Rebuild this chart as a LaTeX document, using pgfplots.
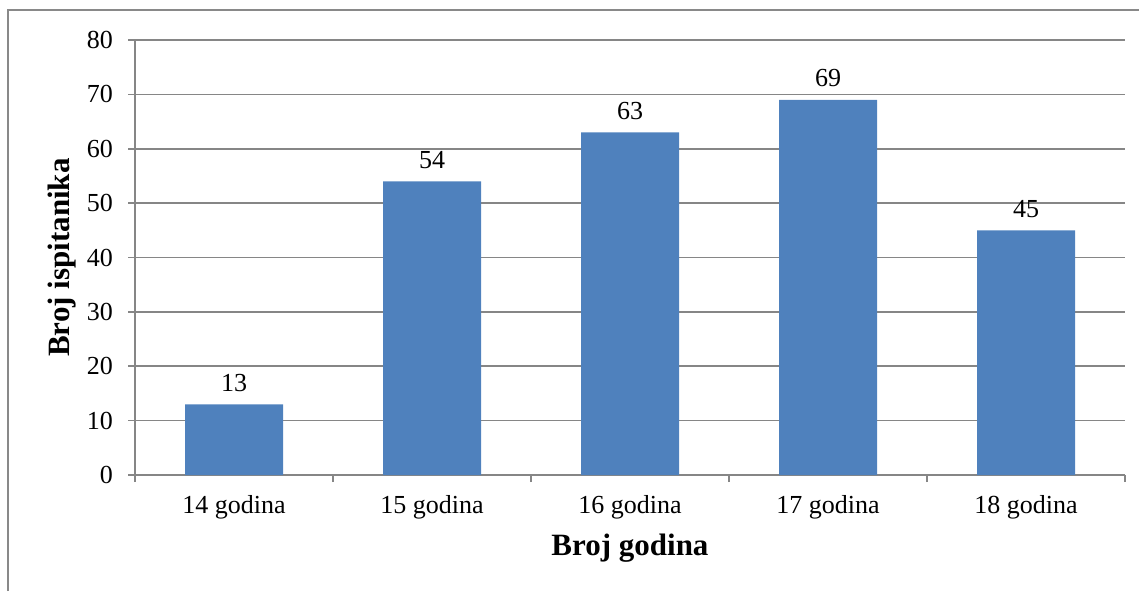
\documentclass[border=0pt]{standalone}
\usepackage{pgfplots}
\pgfplotsset{compat=1.18}
\usepackage{fontspec}
\setmainfont{Liberation Serif}
\definecolor{barblue}{HTML}{4F81BD}
\definecolor{gridgray}{HTML}{868686}
\definecolor{framegray}{HTML}{898989}
\begin{document}
\begin{tikzpicture}
% 1 px of the reference = 0.5pt
\useasboundingbox (0,0) rectangle (569.5pt,295.5pt);
\draw[framegray, line width=1pt] (4pt,0pt) -- (4pt,290.5pt) -- (569.5pt,290.5pt);
\begin{axis}[
    at={(67.5pt,58pt)}, anchor=south west,
    scale only axis,
    width=495pt, height=217.5pt,
    xmin=-0.5, xmax=4.5,
    ymin=0, ymax=80,
    ytick={0,10,...,80},
    xtick={0,1,2,3,4},
    xticklabels={14 godina,15 godina,16 godina,17 godina,18 godina},
    minor xtick={-0.5,0.5,1.5,2.5,3.5,4.5},
    axis lines*=left,
    axis line style={gridgray, line width=0.8pt, -},
    tick style={gridgray, line width=0.8pt},
    tick align=outside,
    major x tick style={draw=none},
    major tick length=3.5pt,
    minor tick length=3.5pt,
    ymajorgrids,
    grid style={gridgray, line width=0.8pt},
    /pgf/number format/assume math mode=true,
    tick label style={font=\fontsize{13}{15}\selectfont, black},
    yticklabel style={xshift=-4pt},
    xticklabel style={yshift=-3pt},
    xlabel={Broj godina},
    ylabel={Broj ispitanika},
    label style={font=\fontsize{15.5}{18}\selectfont\bfseries},
    xlabel style={at={(axis description cs:0.5,-0.168)}, anchor=center},
    ylabel style={at={(axis description cs:-0.0737,0.5)}, anchor=center, rotate=0},
    nodes near coords,
    every node near coord/.append style={font=\fontsize{13}{15}\selectfont, black, yshift=3pt},
    axis on top=false,
]
\addplot[ybar, bar width=49pt, fill=barblue, draw=none]
coordinates {(0,13) (1,54) (2,63) (3,69) (4,45)};
\end{axis}
\end{tikzpicture}
\end{document}
